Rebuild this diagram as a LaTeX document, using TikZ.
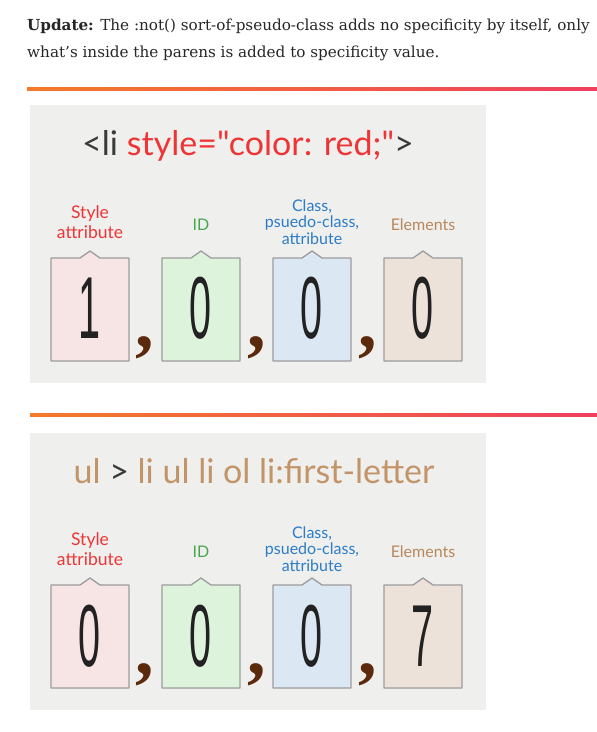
\documentclass[tikz,border=0pt]{standalone}
\usepackage{fontspec}
\setmainfont{DejaVu Serif}
\newfontfamily\labelfont{Lato}
\newfontfamily\digitfont{Liberation Sans}
\newfontfamily\commafont{Liberation Serif}

\definecolor{panelgray}{HTML}{EFEFEE}
\definecolor{cardpink}{HTML}{F7E5E5}
\definecolor{cardgreen}{HTML}{DDF3DC}
\definecolor{cardblue}{HTML}{DCE7F4}
\definecolor{cardtan}{HTML}{ECE2D9}
\definecolor{cardedge}{HTML}{9C9C9C}
\definecolor{inkdark}{HTML}{222222}
\definecolor{inkgray}{HTML}{3A3A3A}
\definecolor{commabrown}{HTML}{5B2A0C}
\definecolor{stylered}{HTML}{EE3535}
\definecolor{idgreen}{HTML}{44A84A}
\definecolor{classblue}{HTML}{2C7CC6}
\definecolor{elemtan}{HTML}{B9875C}
\definecolor{titletan}{HTML}{C39468}
\definecolor{lineorange}{HTML}{F47A28}
\definecolor{linered}{HTML}{EF4060}

\tikzset{
  bodytext/.style={anchor=base west, inner sep=0pt, font=\fontsize{15.2}{18}\selectfont, text=black!85},
  rule/.style={left color=lineorange, right color=linered},
  panel/.style={fill=panelgray},
  card/.style={draw=cardedge, line width=1.3pt, line join=round},
  title/.style={inner sep=0pt, font=\labelfont\fontsize{34}{36}\selectfont},
  lbl/.style={inner sep=0pt, align=center, font=\labelfont\fontsize{16}{17}\selectfont},
  redlbl/.style={lbl, text=stylered, font=\labelfont\fontsize{17.5}{20}\selectfont},
  bluelbl/.style={lbl, text=classblue, font=\labelfont\fontsize{16}{16.5}\selectfont},
  digit/.style={inner sep=0pt, text=inkdark, font=\digitfont\fontsize{88}{88}\selectfont},
  sepcomma/.style={inner sep=0pt, text=commabrown, font=\commafont\bfseries\fontsize{74}{74}\selectfont},
}

\begin{document}
\begin{tikzpicture}[x=1pt,y=-1pt]
  \useasboundingbox (0,0) rectangle (597,732);

  %update note
  \node[bodytext] (note1) at (27,30) {\textbf{Update:} The :not() sort-of-pseudo-class adds no specificity by itself, only};
  \node[bodytext] (note2) at (27,57) {what’s inside the parens is added to specificity value.};

  %first example
  \shade[rule] (27,87) rectangle (597,90);
  \fill[panel] (30,105) rectangle (486,383);
  \node[title] (title1) at (248,146) {\textcolor{inkgray}{<li} \textcolor{stylered}{style="color: red;"}\textcolor{inkgray}{>}};
  \node[redlbl] (style1) at (90,222) {Style\\attribute};
  \node[lbl, text=idgreen] (id1) at (201,225) {ID};
  \node[bluelbl] (class1) at (312,222) {Class,\\psuedo-class,\\attribute};
  \node[lbl, text=elemtan] (elem1) at (423,225) {Elements};
  \foreach \cx/\fc/\d [count=\i] in {90/cardpink/1, 201/cardgreen/0, 312/cardblue/0, 423/cardtan/0}{
    \draw[card, fill=\fc] ({\cx-39},258) -- ({\cx-10},258) -- (\cx,251) -- ({\cx+10},258)
      -- ({\cx+39},258) -- ({\cx+39},361) -- ({\cx-39},361) -- cycle;
    \node[digit] (digit1-\i) at (\cx,308) {\scalebox{0.45}[1]{\d}};
  }
  \foreach \cx [count=\i] in {145,257,368}
    \node[sepcomma] (comma1-\i) at (\cx,348) {,};

  %second example
  \shade[rule] (30,413) rectangle (597,416);
  \fill[panel] (30,433) rectangle (486,710);
  \node[title] (title2) at (254,471) {\textcolor{titletan}{ul} \textcolor{inkgray}{>} \textcolor{titletan}{li ul li ol li:first-letter}};
  \node[redlbl] (style2) at (90,549) {Style\\attribute};
  \node[lbl, text=idgreen] (id2) at (201,552) {ID};
  \node[bluelbl] (class2) at (312,549) {Class,\\psuedo-class,\\attribute};
  \node[lbl, text=elemtan] (elem2) at (423,552) {Elements};
  \foreach \cx/\fc/\d [count=\i] in {90/cardpink/0, 201/cardgreen/0, 312/cardblue/0, 423/cardtan/7}{
    \draw[card, fill=\fc] ({\cx-39},585) -- ({\cx-10},585) -- (\cx,578) -- ({\cx+10},585)
      -- ({\cx+39},585) -- ({\cx+39},688) -- ({\cx-39},688) -- cycle;
    \node[digit] (digit2-\i) at (\cx,636) {\scalebox{0.45}[1]{\d}};
  }
  \foreach \cx [count=\i] in {145,257,368}
    \node[sepcomma] (comma2-\i) at (\cx,675) {,};
\end{tikzpicture}
\end{document}
